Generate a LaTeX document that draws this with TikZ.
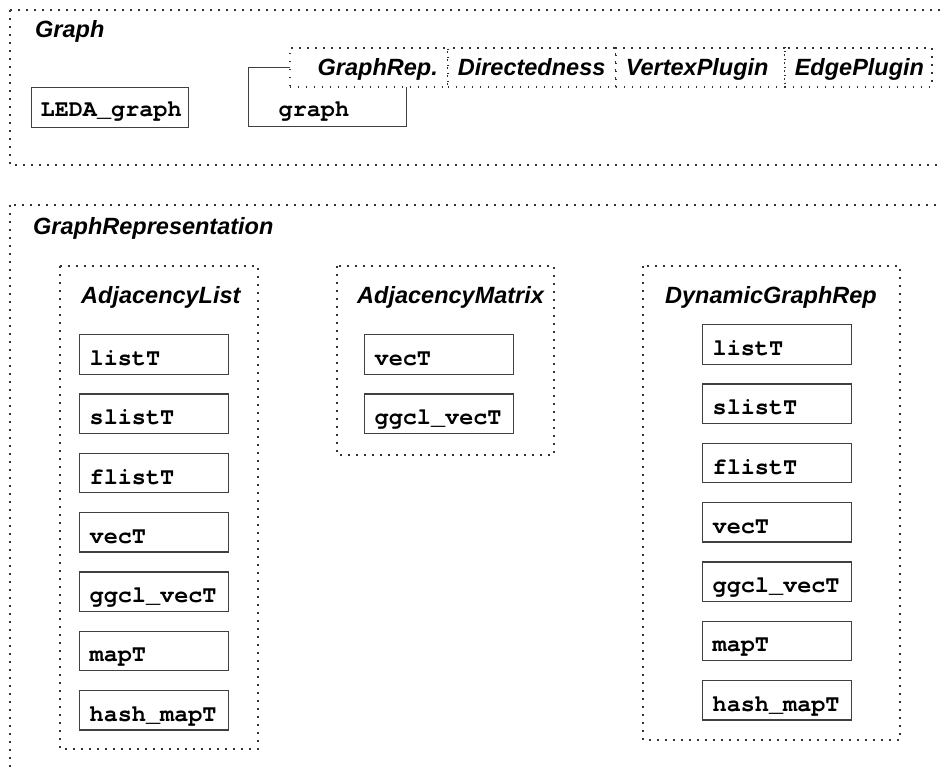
\documentclass[tikz,border=0pt]{standalone}
\usepackage{fontspec}
\setsansfont{Liberation Sans}
\setmonofont[Ligatures=NoCommon]{TeX Gyre Cursor}
\newcommand{\sbi}{\fontsize{23.5}{28}\selectfont\sffamily\bfseries\itshape}
\newcommand{\tbf}{\fontsize{23.5}{28}\selectfont\ttfamily\bfseries}

\tikzset{
  pkg/.style={draw=black!80, line width=1.6pt, dash pattern=on 1.6pt off 6.4pt},
  cls/.style={draw=black!75, line width=1.3pt, rectangle, inner xsep=10pt, inner ysep=0pt,
              text width=129pt, minimum height=39.5pt, text height=22pt, text depth=0pt,
              align=left, font=\tbf, anchor=north west},
  param/.style={pkg, fill=white, inner xsep=10pt, inner ysep=0pt, minimum height=39pt,
              text height=16.8pt, text depth=0pt, align=left, font=\sbi, anchor=north west},
  title/.style={font=\sbi, anchor=base west, inner sep=0pt},
}

\begin{document}
\begin{tikzpicture}[x=1pt, y=-1pt]
   \useasboundingbox (0,0) rectangle (940,768);
   \clip (0,0) rectangle (940,768);
   % package Graph
   \draw[pkg] (10,10) rectangle (960,165);
   \draw (35,38) node[title] (graph-t) {Graph};
   \draw (31,87) node[cls, text width=139pt, inner xsep=9pt, text height=19pt] (leda) {LEDA\_graph};
   \draw (248,67) node[cls, text width=98pt, inner xsep=30pt, minimum height=59pt, text height=39pt] (graph) {graph};
   % template parameters, drawn over the corner of graph
   \draw (289,47) node[param, text width=138pt, align=right] (p-rep) {GraphRep.};
   \draw (447,47) node[param, text width=148pt] (p-dir) {Directedness};
   \draw (615,47) node[param, text width=149pt] (p-vtx) {VertexPlugin};
   \draw (784,47) node[param, text width=127pt] (p-edge) {EdgePlugin};
   % package GraphRepresentation
   \draw[pkg] (10,205) rectangle (960,790);
   \draw (33,234) node[title] (rep-t) {GraphRepresentation};
   % adjacency list
   \draw[pkg] (60,266) rectangle (258,749);
   \draw (81,303) node[title] (al-t) {AdjacencyList};
   \draw (79,334.0) node[cls] (al-list)  {listT};
   \draw (79,393.3) node[cls] (al-slist) {slistT};
   \draw (79,452.6) node[cls] (al-flist) {flistT};
   \draw (79,511.9) node[cls] (al-vec)   {vecT};
   \draw (79,571.2) node[cls] (al-ggcl)  {ggcl\_vecT};
   \draw (79,630.5) node[cls] (al-map)   {mapT};
   \draw (79,689.8) node[cls] (al-hash)  {hash\_mapT};
   % adjacency matrix
   \draw[pkg] (337,266) rectangle (554,455);
   \draw (357,303) node[title] (am-t) {AdjacencyMatrix};
   \draw (364,334.0) node[cls] (am-vec)  {vecT};
   \draw (364,393.3) node[cls] (am-ggcl) {ggcl\_vecT};
   % dynamic representation
   \draw[pkg] (643,266) rectangle (900,740);
   \draw (665,303) node[title] (dg-t) {DynamicGraphRep};
   \draw (702,324.0) node[cls] (dg-list)  {listT};
   \draw (702,383.3) node[cls] (dg-slist) {slistT};
   \draw (702,442.6) node[cls] (dg-flist) {flistT};
   \draw (702,501.9) node[cls] (dg-vec)   {vecT};
   \draw (702,561.2) node[cls] (dg-ggcl)  {ggcl\_vecT};
   \draw (702,620.5) node[cls] (dg-map)   {mapT};
   \draw (702,679.8) node[cls] (dg-hash)  {hash\_mapT};
\end{tikzpicture}
\end{document}
